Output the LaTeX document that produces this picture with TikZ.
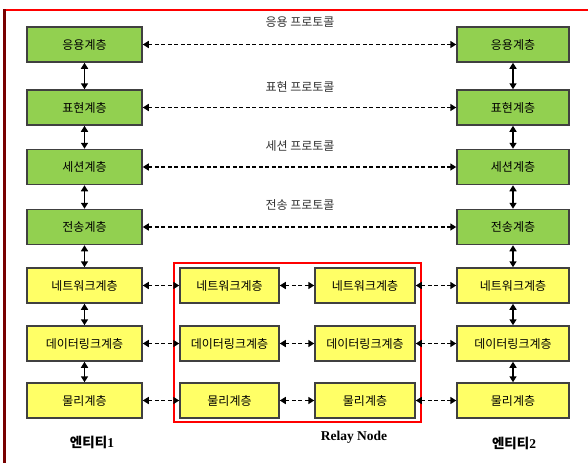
\documentclass[tikz,border=0pt]{standalone}
\usepackage{fontspec}
\setmainfont{Liberation Serif}
\newfontfamily\kr{Noto Sans CJK KR}
\usetikzlibrary{arrows.meta}
\definecolor{lgreen}{RGB}{146,208,80}
\definecolor{lyellow}{RGB}{255,255,102}
\definecolor{bordergray}{RGB}{64,64,64}
\definecolor{framered}{RGB}{255,0,0}
\definecolor{framedark}{RGB}{120,0,0}
\definecolor{protogray}{RGB}{50,50,50}
\begin{document}
\begin{tikzpicture}[x=1pt,y=-1pt,
  layer/.style={draw=bordergray,line width=1.5pt,minimum height=35pt,inner sep=0pt,
    font=\kr\fontsize{12}{14}\selectfont},
  greenbox/.style={layer,fill=lgreen},
  yellowbox/.style={layer,fill=lyellow},
  harrow/.style={line width=1.9pt,dash pattern=on 4pt off 2.5pt,
    {Triangle[length=6pt,width=7pt]}-{Triangle[length=6pt,width=7pt]}},
  varrow/.style={line width=1.9pt,
    {Triangle[length=6pt,width=7pt]}-{Triangle[length=6pt,width=7pt]}},
  proto/.style={text=protogray,font=\kr\fontsize{12}{14}\selectfont},
  caption/.style={font=\bfseries\fontsize{13.5}{16}\selectfont}
]
\useasboundingbox (0,0) rectangle (588,463);
\fill[white] (0,0) rectangle (588,463);
% frame
\draw[framered,line width=2.4pt] (3.5,10) -- (588,10);
\draw[framedark,line width=2.2pt] (4.5,9) -- (4.5,463);

% left column
\node[greenbox,minimum width=115pt] (l1) at (84.5,44.5) {응용계층};
\node[greenbox,minimum width=115pt] (l2) at (84.5,107.5) {표현계층};
\node[greenbox,minimum width=115pt] (l3) at (84.5,167) {세션계층};
\node[greenbox,minimum width=115pt] (l4) at (84.5,227) {전송계층};
\node[yellowbox,minimum width=115pt] (l5) at (84.5,285.5) {네트워크계층};
\node[yellowbox,minimum width=115pt] (l6) at (84.5,343.5) {데이터링크계층};
\node[yellowbox,minimum width=115pt] (l7) at (84.5,400.5) {물리계층};

% right column
\node[greenbox,minimum width=112pt] (r1) at (513,44.5) {응용계층};
\node[greenbox,minimum width=112pt] (r2) at (513,107.5) {표현계층};
\node[greenbox,minimum width=112pt] (r3) at (513,167) {세션계층};
\node[greenbox,minimum width=112pt] (r4) at (513,227) {전송계층};
\node[yellowbox,minimum width=112pt] (r5) at (513,285.5) {네트워크계층};
\node[yellowbox,minimum width=112pt] (r6) at (513,343.5) {데이터링크계층};
\node[yellowbox,minimum width=112pt] (r7) at (513,400.5) {물리계층};

% relay node
\node[yellowbox,minimum width=99pt] (a5) at (229.5,285.5) {네트워크계층};
\node[yellowbox,minimum width=99pt] (a6) at (229.5,343.5) {데이터링크계층};
\node[yellowbox,minimum width=99pt] (a7) at (229.5,400.5) {물리계층};
\node[yellowbox,minimum width=100pt] (b5) at (365,285.5) {네트워크계층};
\node[yellowbox,minimum width=100pt] (b6) at (365,343.5) {데이터링크계층};
\node[yellowbox,minimum width=100pt] (b7) at (365,400.5) {물리계층};
\node[draw=framered,line width=1.6pt,minimum width=247pt,minimum height=159pt,inner sep=0pt] (relay) at (297.5,342.5) {};

% protocol labels
\node[proto] (p1) at (300,22) {응용 프로토콜};
\node[proto] (p2) at (300,87) {표현 프로토콜};
\node[proto] (p3) at (300,146) {세션 프로토콜};
\node[proto] (p4) at (300,205) {전송 프로토콜};

% horizontal arrows
\draw[harrow] (l1) -- (r1);
\draw[harrow] (l2) -- (r2);
\draw[harrow] (l3) -- (r3);
\draw[harrow] (l4) -- (r4);
\foreach \i in {5,6,7}{
  \draw[harrow] (l\i) -- (a\i);
  \draw[harrow] (a\i) -- (b\i);
  \draw[harrow] (b\i) -- (r\i);
}

% vertical arrows
\foreach \i/\j in {1/2,2/3,3/4,4/5,5/6,6/7}{
  \draw[varrow] (l\i) -- (l\j);
  \draw[varrow] (r\i) -- (r\j);
}

% captions
\node[caption] (c1) at (92,442) {{\kr 엔티티}1};
\node[caption] (c2) at (354,437) {Relay Node};
\node[caption] (c3) at (514,443) {{\kr 엔티티}2};
\end{tikzpicture}
\end{document}
